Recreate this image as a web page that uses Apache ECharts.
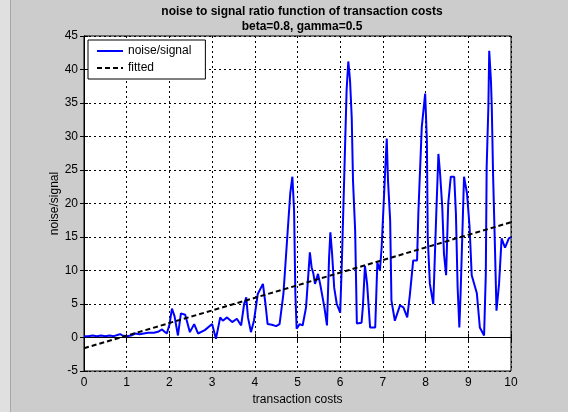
<!DOCTYPE html>
<html><head><meta charset="utf-8">
<script src="https://cdn.jsdelivr.net/npm/echarts@6/dist/echarts.min.js"></script>
<style>html,body{margin:0;padding:0;background:#cccccc}#c{width:568px;height:412px}</style>
</head><body><div id="c"></div>
<script>
var costs = [0.00,0.10,0.20,0.30,0.40,0.50,0.60,0.70,0.80,0.85,0.90,1.00,1.10,1.20,1.30,1.40,1.50,1.64,1.75,1.83,1.88,1.94,
2.00,2.06,2.12,2.20,2.27,2.37,2.48,2.58,2.67,2.83,3.00,3.09,3.19,3.25,3.35,3.47,3.58,3.68,3.75,3.80,3.84,3.91,3.98,
4.07,4.19,4.25,4.30,4.40,4.50,4.58,4.67,4.75,4.83,4.88,4.92,4.95,4.98,5.05,5.12,5.20,5.29,5.33,5.37,5.41,5.48,5.53,
5.63,5.69,5.74,5.77,5.81,5.86,5.92,6.00,6.04,6.09,6.15,6.19,6.23,6.27,6.30,6.35,6.39,6.50,6.53,6.58,6.63,6.70,6.82,
6.87,6.93,6.97,7.05,7.09,7.12,7.17,7.20,7.28,7.40,7.48,7.57,7.63,7.71,7.80,7.83,7.91,7.99,8.03,8.05,8.10,8.18,8.25,
8.30,8.34,8.39,8.43,8.48,8.53,8.59,8.67,8.71,8.75,8.79,8.82,8.87,8.90,8.97,9.03,9.08,9.20,9.27,9.37,9.41,9.43,9.47,
9.49,9.53,9.55,9.58,9.62,9.66,9.72,9.78,9.86,9.95,10.00];
var noiseSignal = [0.2,0.2,0.3,0.2,0.3,0.2,0.3,0.2,0.4,0.5,0.3,0.2,0.3,0.6,0.5,0.6,0.7,0.7,0.9,1.2,0.9,0.6,
1.9,4.3,3.2,0.3,3.6,3.4,0.8,2.0,0.6,1.1,2.0,-0.2,3.0,2.5,3.0,2.3,2.8,1.8,5.0,6.0,3.0,0.8,2.5,
6.5,8.0,5.0,2.0,1.9,1.7,2.0,6.5,14,21.5,24,19,6.5,1.3,2.0,1.8,4.5,12.7,10.5,9.6,8.0,9.5,8.0,
4.5,1.8,12.0,15.7,12.5,7.4,5.0,3.7,11.5,23,36.9,41.2,38.4,32.8,23.4,16,2.1,2.2,4.5,10.7,8,1.5,1.5,
11.2,10,13.4,24.4,29.7,23.4,17.5,5.5,2.5,4.8,4.5,3,6.3,11.5,11.5,18.5,31.4,36.4,29.4,15,8,5,18.5,
27.4,24.4,19.5,12.5,9.3,20,24,24,18.5,7.5,1.5,6.6,17.5,24,21.5,16.5,9.3,6.6,1.5,0.3,9.5,25.4,34.4,
42.8,38.4,34.4,24.4,14.5,4,8,14.8,13.4,14.8,15];
var fitX = [0, 10];
var fitY = [-1.6, 17.2];
var xTicks = [0,1,2,3,4,5,6,7,8,9,10];
var yTicks = [-5,0,5,10,15,20,25,30,35,40,45];

var pair = function(a,b){return a.map(function(v,i){return [v,b[i]];});};
var font = 'Liberation Sans, Arial, sans-serif';
var chart = echarts.init(document.getElementById('c'));
var gridLine = {show:true, lineStyle:{color:'#000', type:[2,3], width:1}};
chart.setOption({
  backgroundColor:'#cccccc',
  animation:false,
  graphic:[
    {type:'rect', shape:{x:0,y:0,width:10,height:412}, style:{fill:'#e0e0e0'}, z:-1},
    {type:'rect', shape:{x:10,y:0,width:1,height:412}, style:{fill:'#a8a8a8'}, z:-1}
  ],
  title:{text:'noise to signal ratio function of transaction costs\nbeta=0.8, gamma=0.5',
    left:297, top:-1, textAlign:'center',
    textStyle:{fontFamily:font, fontSize:12, fontWeight:'bold', color:'#000', lineHeight:15}},
  legend:{left:88, top:40, orient:'vertical', backgroundColor:'#fff', borderColor:'#000', borderWidth:1,
    padding:[5,14,5,8], itemGap:5, itemWidth:26, itemHeight:10,
    itemStyle:{opacity:0},
    textStyle:{fontFamily:font, fontSize:12, color:'#000'},
    data:['noise/signal','fitted']},
  grid:{left:84, right:57, top:36, bottom:41, show:true, backgroundColor:'#fff', borderColor:'#000', borderWidth:1},
  xAxis:[{type:'value', min:0, max:10, interval:1,
    name:'transaction costs', nameLocation:'middle', nameGap:23,
    nameTextStyle:{fontFamily:font, fontSize:12, color:'#000'},
    axisLine:{show:true, lineStyle:{color:'#000'}}, axisTick:{show:true, inside:true, length:4, lineStyle:{color:'#000'}},
    axisLabel:{fontFamily:font, fontSize:12, color:'#000', margin:6, formatter:function(v){return xTicks.indexOf(v)>=0?String(v):'';}},
    splitLine:gridLine},
   {type:'value', position:'top', min:0, max:10, interval:1,
    axisLine:{show:true, lineStyle:{color:'#000'}}, axisTick:{show:true, inside:true, length:4, lineStyle:{color:'#000'}},
    axisLabel:{show:false}, splitLine:{show:false}}],
  yAxis:[{type:'value', min:-5, max:45, interval:5,
    name:'noise/signal', nameLocation:'middle', nameGap:23, nameRotate:90, nameMoveOverlap:false,
    nameTextStyle:{fontFamily:font, fontSize:12, color:'#000'},
    axisLine:{show:true, lineStyle:{color:'#000'}}, axisTick:{show:true, inside:true, length:4, lineStyle:{color:'#000'}},
    axisLabel:{fontFamily:font, fontSize:12, color:'#000', margin:6, formatter:function(v){return yTicks.indexOf(v)>=0?String(v):'';}},
    splitLine:gridLine},
   {type:'value', position:'right', min:-5, max:45, interval:5,
    axisLine:{show:true, lineStyle:{color:'#000'}}, axisTick:{show:true, inside:true, length:4, lineStyle:{color:'#000'}},
    axisLabel:{show:false}, splitLine:{show:false}}],
  series:[
    {name:'noise/signal', type:'line', data:pair(costs, noiseSignal), symbol:'none', showSymbol:false,
     lineStyle:{color:'#0000ff', width:2}, itemStyle:{color:'#0000ff'}, z:3},
    {name:'fitted', type:'line', data:pair(fitX, fitY), symbol:'none', showSymbol:false,
     lineStyle:{color:'#000', width:2, type:[5,3]}, itemStyle:{color:'#000'}, z:4}
  ]
});
</script></body></html>
